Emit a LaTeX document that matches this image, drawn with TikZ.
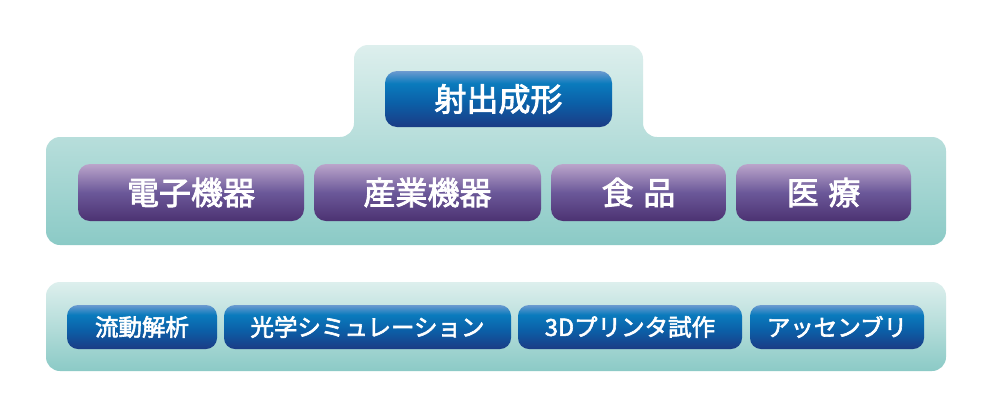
\documentclass[tikz,border=0pt]{standalone}
\usepackage{fontspec}
\newfontfamily\cjk{Noto Sans CJK JP}[FakeBold=2.5]
\definecolor{bgtop}{HTML}{DDEFED}
\definecolor{bgbot}{HTML}{8BCAC6}
\definecolor{bbot}{HTML}{1B3B85}
\definecolor{bmid}{HTML}{0B60A8}
\definecolor{bhi}{HTML}{0A7BBD}
\definecolor{btop}{HTML}{6C9AD0}
\definecolor{pbot}{HTML}{4C3272}
\definecolor{pmid}{HTML}{6B5899}
\definecolor{ptop}{HTML}{BBA5CB}
\pgfdeclareverticalshading{bluebtn}{100bp}{color(0bp)=(bbot); color(25bp)=(bbot); color(47bp)=(bmid); color(64bp)=(bhi); color(75bp)=(btop); color(100bp)=(btop)}
\pgfdeclareverticalshading{purplebtn}{100bp}{color(0bp)=(pbot); color(25bp)=(pbot); color(50bp)=(pmid); color(75bp)=(ptop); color(100bp)=(ptop)}
\begin{document}
\begin{tikzpicture}[x=1pt,y=-1pt,
  btn/.style={rounded corners=12pt, inner sep=0pt, text=white, align=center},
  bluebox/.style={btn, shading=bluebtn},
  purplebox/.style={btn, shading=purplebtn},
  big/.style={font=\cjk\fontsize{32}{32}\selectfont},
  small/.style={font=\cjk\fontsize{23.5}{23.5}\selectfont, rounded corners=11pt}]
\useasboundingbox (0,0) rectangle (990,416);
\fill[white] (0,0) rectangle (990,416);
% upper background
\shade[top color=bgtop, bottom color=bgbot, rounded corners=14pt]
  (500,245) -- (46,245) -- (46,137) -- (354,137) -- (354,45) -- (643,45)
  -- (643,137) -- (946,137) -- (946,245) -- cycle;
% lower background
\shade[top color=bgtop, bottom color=bgbot, rounded corners=14pt]
  (46,282) rectangle (946,371);
% top button
\node[bluebox, big, minimum width=227pt, minimum height=56pt] (inj) at (498.5,99) {射出成形};
% purple buttons
\node[purplebox, big, minimum width=226pt, minimum height=57pt] (elec) at (191,192.5) {電子機器};
\node[purplebox, big, minimum width=227pt, minimum height=57pt] (ind) at (427.5,192.5) {産業機器};
\node[purplebox, big, minimum width=175pt, minimum height=57pt] (food) at (638.5,192.5) {食\hspace{0.3em}品};
\node[purplebox, big, minimum width=175pt, minimum height=57pt] (med) at (823.5,192.5) {医\hspace{0.3em}療};
% lower buttons
\node[bluebox, small, minimum width=150pt, minimum height=44pt] (flow) at (142,327) {流動解析};
\node[bluebox, small, minimum width=287pt, minimum height=44pt] (opt) at (367.5,327) {光学シミュレーション};
\node[bluebox, small, minimum width=224pt, minimum height=44pt] (print) at (630,327) {3Dプリンタ試作};
\node[bluebox, small, minimum width=174pt, minimum height=44pt] (asm) at (837,327) {アッセンブリ};
\end{tikzpicture}
\end{document}
